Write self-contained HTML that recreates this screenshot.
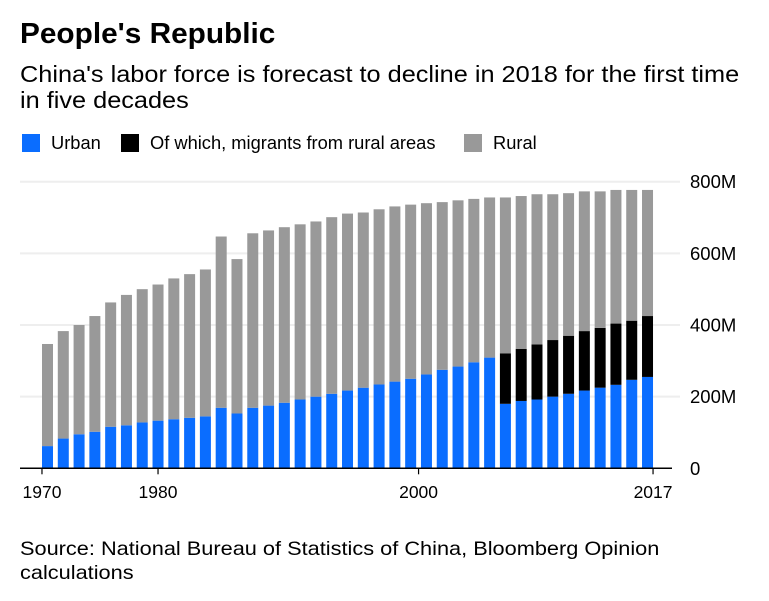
<!DOCTYPE html>
<html><head><meta charset="utf-8"><style>
body{margin:0;background:#fff;font-family:"Liberation Sans",sans-serif;color:#000;}
#wrap{position:relative;width:769px;height:601px;overflow:hidden;}
.t{position:absolute;left:20px;margin:0;transform-origin:0 0;white-space:nowrap;}
</style></head><body>
<div id="wrap">
<div class="t" style="top:18px;font-size:28.5px;font-weight:bold;transform:scaleX(1.045);">People's Republic</div>
<div class="t" style="top:61px;font-size:23px;line-height:26px;transform:scaleX(1.1);">China's labor force is forecast to decline in 2018 for the first time<br>in five decades</div>
<div class="t" style="top:537px;font-size:19.5px;line-height:24px;transform:scaleX(1.115);">Source: National Bureau of Statistics of China, Bloomberg Opinion<br>calculations</div>
<svg id="chart" width="769" height="601" style="position:absolute;left:0;top:0"></svg>
</div>
<script>
const categories=[1970,1971,1972,1973,1974,1975,1978,1980,1981,1982,1983,1984,1985,1986,1987,1988,1989,1990,1991,1992,1993,1994,1995,1996,1997,1998,1999,2000,2001,2002,2003,2004,2005,2006,2007,2008,2009,2010,2017];
const totalVals=[347,383,400,425,463,484,500,513,530,542,555,647,584,656,664,673,681,689,701,711,714,723,731,736,740,743,748,752,756,756,760,765,765,768,773,773,777,777,777];
const urbanVals=[62,83,95,102,116,120,128,133,137,141,145,169,153,169,175,183,192,200,208,217,225,234,242,250,262,275,284,296,309,180,188,192,200,208,217,225,233,247,255];
const migrantVals=[0,0,0,0,0,0,0,0,0,0,0,0,0,0,0,0,0,0,0,0,0,0,0,0,0,0,0,0,0,141,145,154,158,162,166,167,171,165,170];
const yTicks=[0,200,400,600,800];
const yTickLabels=["0","200M","400M","600M","800M"];
const xTickLabels=["1970","1980","2000","2017"];
const xTickIdx=[-0.35,7,23.5,38.35];
const legendLabels=["Urban","Of which, migrants from rural areas","Rural"];

const NS="http://www.w3.org/2000/svg";
const svg=document.getElementById('chart');
const y0=468.3,y800=181.7,x0=47.5,pitch=15.79,bw=11;
const yS=v=>y0-(v/800)*(y0-y800);
const xS=i=>x0+i*pitch;
function mk(tag,attrs){const e=document.createElementNS(NS,tag);for(const k in attrs)e.setAttribute(k,attrs[k]);svg.appendChild(e);return e;}
yTicks.forEach((v,i)=>{
  if(v>0){const g=mk('line',{x1:20,x2:680,y1:yS(v),y2:yS(v),stroke:'#eeeeee','stroke-width':2});
  
  }
  const t=mk('text',{x:690,y:yS(v)+6.5,'font-size':18.5,fill:'#000'});
  t.textContent=yTickLabels[i];
  
  
});
categories.forEach((c,i)=>{
  const x=xS(i)-bw/2;
  const u=mk('rect',{x:x,y:yS(urbanVals[i]),width:bw,height:y0-yS(urbanVals[i]),fill:'#0a6dff'});
  
  
  const mt=urbanVals[i]+migrantVals[i];
  if(migrantVals[i]>0){const m=mk('rect',{x:x,y:yS(mt),width:bw,height:yS(urbanVals[i])-yS(mt),fill:'#000'});
  
  }
  const r=mk('rect',{x:x,y:yS(totalVals[i]),width:bw,height:yS(mt)-yS(totalVals[i]),fill:'#999999'});
  
  
});
const ax=mk('line',{x1:20,x2:672,y1:y0,y2:y0,stroke:'#000','stroke-width':1.5});


xTickLabels.forEach((l,i)=>{
  const x=xS(xTickIdx[i]);
  const tk=mk('line',{x1:x,x2:x,y1:y0,y2:y0+6,stroke:'#000','stroke-width':1.2});
  
  
  const t=mk('text',{x:x,y:498,'font-size':17.5,'text-anchor':'middle',fill:'#000'});
  t.textContent=l;
  
  
});
const legCols=['#0a6dff','#000','#999999'];
const legX=[22,121,464];
legendLabels.forEach((l,i)=>{
  const s=mk('rect',{x:legX[i],y:134,width:18,height:18,fill:legCols[i]});
  
  
  const t=mk('text',{x:legX[i]+29,y:149,'font-size':18.3,fill:'#000'});
  t.textContent=l;
  
  
});
</script>
</body></html>
